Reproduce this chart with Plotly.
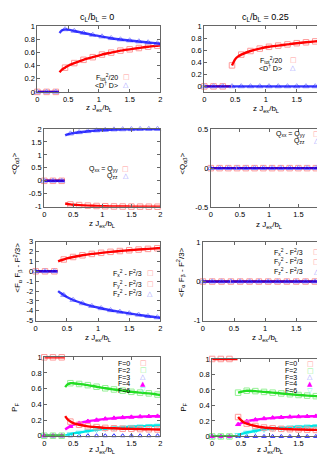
import plotly.graph_objects as go

W, H = 325, 454

# ---------------- data ----------------
# x grid for c_L/b_L = 0 (ordered branch starts at index 4)
x_c0 = [0.0, 0.15, 0.30, 0.35, 0.36, 0.40, 0.45, 0.50, 0.60, 0.75, 0.90, 1.05,
        1.20, 1.35, 1.50, 1.65, 1.80, 1.95, 2.00]
BREAK_C0 = 4
# x grid for c_L/b_L = 0.25
x_c25 = [0.0, 0.15, 0.30, 0.44, 0.45, 0.50, 0.55, 0.60, 0.75, 0.90, 1.05, 1.20,
         1.35, 1.50, 1.65, 1.80, 1.95, 2.00]
BREAK_C25 = 4

ftot_c0 = [0, 0, 0, 0, 0.30, 0.34, 0.37, 0.40, 0.44, 0.49, 0.53, 0.57, 0.60, 0.63,
           0.65, 0.67, 0.69, 0.705, 0.71]
dd_c0 = [0, 0, 0, 0, 0.90, 0.94, 0.955, 0.95, 0.93, 0.90, 0.87, 0.845, 0.82, 0.80,
         0.785, 0.77, 0.755, 0.74, 0.735]
qxx_c0 = [0, 0, 0, 0, -0.875, -0.895, -0.91, -0.92, -0.935, -0.955, -0.97, -0.98,
          -0.987, -0.991, -0.994, -0.996, -0.998, -0.999, -1.0]
qzz_c0 = [0, 0, 0, 0, 1.75, 1.79, 1.82, 1.84, 1.87, 1.91, 1.94, 1.96, 1.975, 1.982,
          1.988, 1.992, 1.996, 1.998, 2.0]
fxx_c0 = [0, 0, 0, 0, 1.00, 1.10, 1.20, 1.30, 1.45, 1.62, 1.76, 1.87, 1.97, 2.05,
          2.13, 2.20, 2.27, 2.33, 2.35]
fzz_c0 = [0, 0, 0, 0, -2.00, -2.20, -2.40, -2.60, -2.90, -3.24, -3.52, -3.74, -3.94,
          -4.10, -4.26, -4.40, -4.54, -4.66, -4.70]
p0_c0 = [1, 1, 1, 1, 0.25, 0.21, 0.18, 0.16, 0.14, 0.12, 0.11, 0.10, 0.095, 0.09,
         0.088, 0.085, 0.082, 0.08, 0.08]
p2_c0 = [0, 0, 0, 0, 0.62, 0.655, 0.67, 0.67, 0.66, 0.645, 0.625, 0.605, 0.59, 0.575,
         0.56, 0.55, 0.54, 0.525, 0.52]
p3_c0 = [0, 0, 0, 0, 0, 0, 0, 0, 0, 0, 0, 0, 0, 0, 0, 0, 0, 0, 0]
p4_c0 = [0, 0, 0, 0, 0.08, 0.10, 0.12, 0.14, 0.16, 0.185, 0.20, 0.215, 0.225, 0.232,
         0.238, 0.243, 0.247, 0.25, 0.25]
p6_c0 = [0, 0, 0, 0, 0.00, 0.01, 0.02, 0.03, 0.04, 0.06, 0.075, 0.088, 0.098, 0.107,
         0.114, 0.12, 0.126, 0.13, 0.132]

ftot_c25 = [0, 0, 0, 0, 0.35, 0.45, 0.50, 0.53, 0.59, 0.63, 0.66, 0.68, 0.70, 0.72,
            0.735, 0.75, 0.765, 0.77]
dd_c25 = [0, 0, 0, 0, 0, 0, 0, 0, 0, 0, 0, 0, 0, 0, 0, 0, 0, 0]
qxx_c25 = [0, 0, 0, 0, 0, 0, 0, 0, 0, 0, 0, 0, 0, 0, 0, 0, 0, 0]
qzz_c25 = [0, 0, 0, 0, 0, 0, 0, 0, 0, 0, 0, 0, 0, 0, 0, 0, 0, 0]
fxx_c25 = [0, 0, 0, 0, 0, 0, 0, 0, 0, 0, 0, 0, 0, 0, 0, 0, 0, 0]
fzz_c25 = [0, 0, 0, 0, 0, 0, 0, 0, 0, 0, 0, 0, 0, 0, 0, 0, 0, 0]
p0_c25 = [1, 1, 1, 1, 0.25, 0.21, 0.18, 0.165, 0.135, 0.115, 0.105, 0.098, 0.093,
          0.09, 0.087, 0.084, 0.082, 0.08]
p2_c25 = [0, 0, 0, 0, 0.565, 0.575, 0.585, 0.59, 0.585, 0.575, 0.565, 0.555, 0.545,
          0.535, 0.527, 0.52, 0.51, 0.505]
p3_c25 = [0, 0, 0, 0, 0, 0, 0, 0, 0, 0, 0, 0, 0, 0, 0, 0, 0, 0]
p4_c25 = [0, 0, 0, 0, 0.155, 0.17, 0.185, 0.195, 0.215, 0.23, 0.24, 0.247, 0.252,
          0.256, 0.259, 0.262, 0.264, 0.265]
p6_c25 = [0, 0, 0, 0, 0.02, 0.03, 0.04, 0.05, 0.07, 0.087, 0.10, 0.11, 0.118, 0.124,
          0.13, 0.134, 0.138, 0.14]

x_tickvals = [0, 0.5, 1, 1.5, 2]
x_ticktext = ["0", "0.5", "1", "1.5", "2"]
y_ticks_P = [0, 0.2, 0.4, 0.6, 0.8, 1]
y_ticktext_P = ["0", "0.2", "0.4", "0.6", "0.8", "1"]
y_ticks_Q0 = [-1, -0.5, 0, 0.5, 1, 1.5, 2]
y_ticktext_Q0 = ["-1", "-0.5", "0", "0.5", "1", "1.5", "2"]
y_ticks_Q25 = [-0.5, 0, 0.5]
y_ticktext_Q25 = ["-0.5", "0", "0.5"]
y_ticks_F0 = [-5, -4, -3, -2, -1, 0, 1, 2, 3]
y_ticktext_F0 = ["-5", "-4", "-3", "-2", "-1", "0", "1", "2", "3"]
y_ticks_F25 = [-1, 0, 1]
y_ticktext_F25 = ["-1", "0", "1"]

# ---------------- styling ----------------
FONT = "Liberation Sans, Arial, sans-serif"
TICKFONT = 7.5
AXCOL = "#666666"

RED_L, RED_M = "#ff0000", "#ff9a9a"
BLUE_L, BLUE_M = "rgba(0,0,255,0.78)", "#9a9aff"
GREEN_L, GREEN_M = "#22dd22", "#94f094"
MAG_L, MAG_M = "#ff00ff", "#ff00ff"
CYAN_L, CYAN_M = "#00e6e6", "#70f0f0"
DBLUE_M = "#3030ff"

# panel boxes in pixels: left, right, top, bottom
boxes = {
    1: (27.7, 152.3, 14.7, 81.5),
    2: (196.7, 321.5, 14.7, 82.0),
    3: (34.7, 152.3, 119.3, 198.7),
    4: (203.3, 321.5, 119.3, 199.3),
    5: (26.0, 152.3, 234.3, 315.0),
    6: (195.3, 321.3, 235.0, 315.0),
    7: (34.7, 152.3, 352.3, 432.3),
    8: (204.7, 321.3, 354.0, 433.0),
}
yaxes = {
    1: ([0, 1], y_ticks_P, y_ticktext_P),
    2: ([-0.1, 1], y_ticks_P, y_ticktext_P),
    3: ([-1, 2], y_ticks_Q0, y_ticktext_Q0),
    4: ([-0.5, 0.5], y_ticks_Q25, y_ticktext_Q25),
    5: ([-5, 3], y_ticks_F0, y_ticktext_F0),
    6: ([-1, 1], y_ticks_F25, y_ticktext_F25),
    7: ([0, 1], y_ticks_P, y_ticktext_P),
    8: ([0, 1], y_ticks_P, y_ticktext_P),
}

fig = go.Figure()
layout = {}
for i, (l, r, t, b) in boxes.items():
    yr, tv, tt = yaxes[i]
    layout[f"xaxis{i}"] = dict(
        domain=[l / W, r / W], anchor=f"y{i}", range=[0, 2],
        tickvals=x_tickvals, ticktext=x_ticktext, ticklabeloverflow="allow",
        ticks="inside", ticklen=3, tickcolor=AXCOL, showline=True, linecolor=AXCOL,
        linewidth=1, mirror="ticks", showgrid=False, zeroline=False,
        tickfont=dict(size=TICKFONT, color="#000", family=FONT))
    layout[f"yaxis{i}"] = dict(
        domain=[1 - b / H, 1 - t / H], anchor=f"x{i}", range=yr,
        tickvals=tv, ticktext=tt, ticklabeloverflow="allow",
        ticks="inside", ticklen=3, tickcolor=AXCOL, showline=True, linecolor=AXCOL,
        linewidth=1, mirror="ticks", showgrid=False, zeroline=False,
        tickfont=dict(size=TICKFONT, color="#000", family=FONT))


def split(x, y, brk):
    return x[:brk] + [None] + x[brk:], y[:brk] + [None] + y[brk:]


def marks(x, y):
    mx, my = [], []
    for xi, yi in zip(x, y):
        k = xi / 0.15
        if abs(k - round(k)) < 1e-6:
            mx.append(xi)
            my.append(yi)
    return mx, my


def add_series(i, x, y, brk, lcol, mcol, symbol, lw=2.4, msize=5.5):
    xa = "x" if i == 1 else f"x{i}"
    ya = "y" if i == 1 else f"y{i}"
    mx, my = marks(x, y)
    fig.add_trace(go.Scatter(x=mx, y=my, mode="markers", xaxis=xa, yaxis=ya,
                             marker=dict(symbol=symbol, size=msize, color=mcol,
                                         line=dict(color=mcol, width=1)),
                             cliponaxis=False, showlegend=False, hoverinfo="skip"))
    lx, ly = split(x, y, brk)
    fig.add_trace(go.Scatter(x=lx, y=ly, mode="lines", xaxis=xa, yaxis=ya,
                             line=dict(color=lcol, width=lw, shape="spline", smoothing=0.6),
                             showlegend=False, hoverinfo="skip"))


# panel 1 & 2
add_series(1, x_c0, ftot_c0, BREAK_C0, RED_L, RED_M, "square-open")
add_series(1, x_c0, dd_c0, BREAK_C0, BLUE_L, BLUE_M, "triangle-up-open")
add_series(2, x_c25, ftot_c25, BREAK_C25, RED_L, RED_M, "square-open")
add_series(2, x_c25, dd_c25, BREAK_C25, BLUE_L, BLUE_M, "triangle-up-open")
# panel 3 & 4
add_series(3, x_c0, qxx_c0, BREAK_C0, RED_L, RED_M, "square-open")
add_series(3, x_c0, qzz_c0, BREAK_C0, BLUE_L, BLUE_M, "triangle-up-open")
add_series(4, x_c25, qxx_c25, BREAK_C25, RED_L, RED_M, "square-open")
add_series(4, x_c25, qzz_c25, BREAK_C25, BLUE_L, BLUE_M, "triangle-up-open")
# panel 5 & 6
add_series(5, x_c0, fxx_c0, BREAK_C0, RED_L, RED_M, "square-open")
add_series(5, x_c0, fzz_c0, BREAK_C0, BLUE_L, BLUE_M, "triangle-up-open")
add_series(6, x_c25, fxx_c25, BREAK_C25, RED_L, RED_M, "square-open")
add_series(6, x_c25, fzz_c25, BREAK_C25, BLUE_L, BLUE_M, "triangle-up-open")
# panel 7 & 8
for i, xs, brk, p0, p2, p3, p4, p6 in [
        (7, x_c0, BREAK_C0, p0_c0, p2_c0, p3_c0, p4_c0, p6_c0),
        (8, x_c25, BREAK_C25, p0_c25, p2_c25, p3_c25, p4_c25, p6_c25)]:
    add_series(i, xs, p3, brk, "rgba(0,0,200,0.0)", DBLUE_M, "triangle-up-open", msize=4)
    add_series(i, xs, p6, brk, CYAN_L, CYAN_M, "triangle-down-open")
    add_series(i, xs, p4, brk, MAG_L, MAG_M, "triangle-up", msize=4.5)
    add_series(i, xs, p2, brk, GREEN_L, GREEN_M, "square-open")
    add_series(i, xs, p0, brk, RED_L, RED_M, "square-open")

ann = []


def txt(xp, yp, text, size=8, xanchor="center", color="#000", angle=0, family=FONT):
    ann.append(dict(x=xp / W, y=1 - yp / H, xref="paper", yref="paper", text=text,
                    showarrow=False, xanchor=xanchor, yanchor="middle", textangle=angle,
                    borderpad=0, font=dict(size=size, color=color, family=family)))


# titles
txt(88, 6, "c<sub>L</sub>/b<sub>L</sub> = 0", size=9)
txt(259, 6, "c<sub>L</sub>/b<sub>L</sub> = 0.25", size=9)

# x titles
xlab = "z J<sub>ex</sub>/b<sub>L</sub>"
for i, yp in [(1, 98.3), (2, 99.3), (3, 216.7), (4, 217.3), (5, 332.3), (6, 332.3),
              (7, 446.5), (8, 447.0)]:
    l, r, t, b = boxes[i]
    txt((l + r) / 2, yp, xlab, size=8)

# y titles
qlab = "&lt;Q<sub>αβ</sub>&gt;"
flab = "&lt;F<sub>α</sub> F<sub>β</sub> - F<sup>2</sup>/3&gt;"
plab = "P<sub>F</sub>"
txt(5, 155, qlab, angle=-90)
txt(175, 155, qlab, angle=-90)
txt(8, 261, flab, angle=-90)
txt(173, 265.7, flab, angle=-90)
txt(5, 403, plab, angle=-90)
txt(176, 403, plab, angle=-90)

# legends (gnuplot style: text then symbol)
legends = [
    (110, 117.5, [(66.7, "F<sub>tot</sub><sup>2</sup>/20", "□", RED_M),
                  (74.0, "&lt;D<sup>†</sup> D&gt;", "△", BLUE_M)]),
    (276, 287, [(49.3, "F<sub>tot</sub><sup>2</sup>/20", "□", RED_M),
                (56.7, "&lt;D<sup>†</sup> D&gt;", "△", BLUE_M)]),
    (110, 117, [(160.0, "Q<sub>xx</sub> = Q<sub>yy</sub>", "□", RED_M),
                (167.3, "Q<sub>zz</sub>", "△", BLUE_M)]),
    (300, 310.7, [(124.5, "Q<sub>xx</sub> = Q<sub>yy</sub>", "□", RED_M),
                  (131.7, "Q<sub>zz</sub>", "△", BLUE_M)]),
    (135, 142, [(266.7, "F<sub>x</sub><sup>2</sup> - F<sup>2</sup>/3", "□", RED_M),
                (277.7, "F<sub>y</sub><sup>2</sup> - F<sup>2</sup>/3", "□", RED_M),
                (287.7, "F<sub>z</sub><sup>2</sup> - F<sup>2</sup>/3", "△", BLUE_M)]),
    (298, 310.7, [(245.0, "F<sub>x</sub><sup>2</sup> - F<sup>2</sup>/3", "□", RED_M),
                  (255.0, "F<sub>y</sub><sup>2</sup> - F<sup>2</sup>/3", "□", RED_M),
                  (265.0, "F<sub>z</sub><sup>2</sup> - F<sup>2</sup>/3", "△", BLUE_M)]),
    (123, 135, [(358.3, "F=0", "□", RED_M), (365.7, "F=2", "□", GREEN_M),
                (372.7, "F=3", "△", BLUE_M), (379.3, "F=4", "▲", MAG_M),
                (386.0, "F=6", "▽", CYAN_M)]),
    (292, 304, [(359.0, "F=0", "□", RED_M), (366.0, "F=2", "□", GREEN_M),
                (372.7, "F=3", "△", BLUE_M), (379.3, "F=4", "▲", MAG_M),
                (386.3, "F=6", "▽", CYAN_M)]),
]
for xr, xs, items in legends:
    for yp, label, sym, col in items:
        txt(xr, yp, label, size=7, xanchor="right")
        txt(xs, yp, sym, size=7, color=col, family="DejaVu Sans")

layout["annotations"] = ann
fig.update_layout(**layout)
fig.update_layout(width=W, height=H, margin=dict(l=0, r=0, t=0, b=0),
                  paper_bgcolor="white", plot_bgcolor="white", showlegend=False)
fig.write_html("out.html")
